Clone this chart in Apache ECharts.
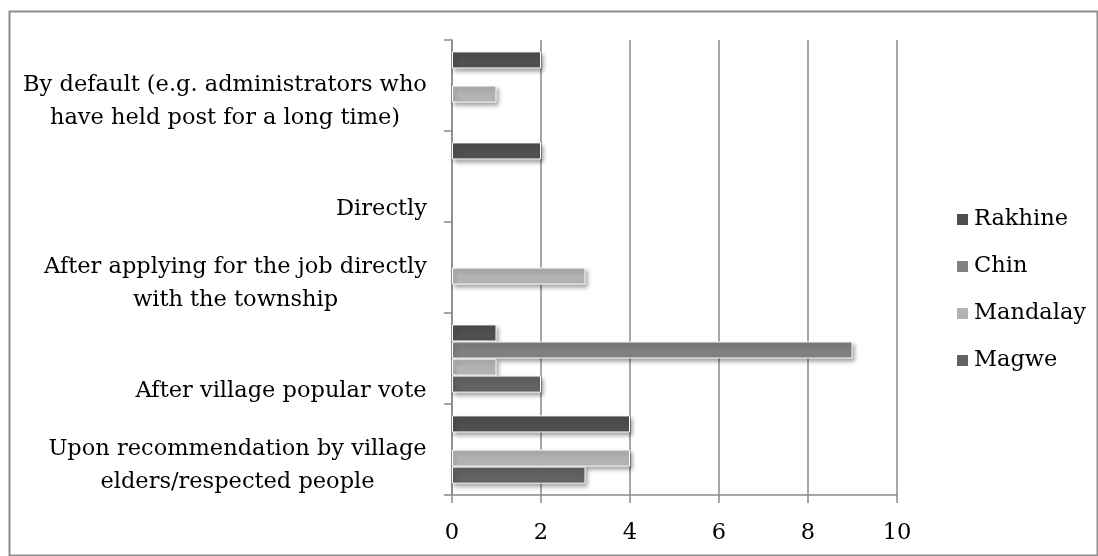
<!DOCTYPE html>
<html>
<head>
<meta charset="utf-8">
<script src="https://cdn.jsdelivr.net/npm/echarts@6/dist/echarts.min.js"></script>
<style>
  html, body { margin: 0; padding: 0; background: #fff; }
  #chart { width: 1098px; height: 556px; }
</style>
</head>
<body>
<div id="chart"></div>
<script>
// categories, top to bottom as in the picture
const categories = [
    'By default (e.g. administrators who\nhave held post for a long time)',
    'Directly',
    'After applying for the job directly\nwith the township',
    'After village popular vote',
    'Upon recommendation by village\nelders/respected people'
];
const regions = ['Rakhine', 'Chin', 'Mandalay', 'Magwe'];
const rakhine = [2, 2, 0, 1, 4];
const chin = [0, 0, 0, 9, 0];
const mandalay = [1, 0, 3, 1, 4];
const magwe = [0, 0, 0, 2, 3];
const xTicks = [0, 2, 4, 6, 8, 10];

const colors = {Rakhine: '#4f4f4f', Chin: '#808080', Mandalay: '#b3b3b3', Magwe: '#626262'};
const values = {Rakhine: rakhine, Chin: chin, Mandalay: mandalay, Magwe: magwe};

const fontFamily = '"DejaVu Serif", "Liberation Serif", serif';
const fontSize = 22.5;
const lineH = 33;

// each label's lines are centred inside a box as wide as its longest line
const ctx = document.createElement('canvas').getContext('2d');
ctx.font = fontSize + 'px ' + fontFamily;
const rich = {sp: {fontSize: fontSize, lineHeight: lineH, fontFamily: fontFamily}};
categories.forEach((c, i) => {
    const w = Math.max(...c.split('\n').map(l => ctx.measureText(l).width));
    rich['c' + i] = {
        width: Math.ceil(w), align: 'center', fontSize: fontSize,
        lineHeight: lineH, fontFamily: fontFamily, color: '#000'
    };
});

const myChart = echarts.init(document.getElementById('chart'));

const options = {
    animation: false,
    backgroundColor: '#fff',
    graphic: [{
        type: 'rect',
        shape: {x: 9.5, y: 11.5, width: 1088, height: 544},
        style: {fill: 'none', stroke: '#8c8c8c', lineWidth: 2},
        silent: true
    }],
    legend: {
        orient: 'vertical',
        left: 950,
        top: 199,
        data: regions,
        icon: 'rect',
        itemWidth: 13,
        itemHeight: 13,
        itemGap: 16,
        textStyle: {fontFamily: fontFamily, fontSize: fontSize, lineHeight: 31, color: '#000'}
    },
    grid: {
        left: 452,
        right: 201,
        top: 40,
        bottom: 61,
        outerBoundsMode: 'none'
    },
    xAxis: {
        type: 'value',
        min: 0,
        max: 10,
        interval: 2,
        axisLine: {show: true, lineStyle: {color: '#8a8a8a', width: 1.5}},
        axisTick: {show: true, length: 8, lineStyle: {color: '#8a8a8a', width: 1.5}},
        splitLine: {show: true, lineStyle: {color: '#8a8a8a', width: 1.5}},
        axisLabel: {
            margin: 27,
            fontFamily: fontFamily,
            fontSize: fontSize,
            color: '#000',
            formatter: v => xTicks.includes(v) ? String(v) : ''
        }
    },
    yAxis: {
        type: 'category',
        inverse: true,
        data: categories,
        axisLine: {show: true, lineStyle: {color: '#8a8a8a', width: 1.5}},
        axisTick: {show: true, length: 8, lineStyle: {color: '#8a8a8a', width: 1.5}},
        splitLine: {show: false},
        axisLabel: {
            interval: 0,
            margin: 25,
            rich: rich,
            formatter: (value) => {
                const i = categories.indexOf(value);
                const lines = value.split('\n');
                const pad = new Array(3 - lines.length).fill('{sp| }');
                return pad.concat(lines.map(l => '{c' + i + '|' + l + '}')).join('\n');
            }
        }
    },
    series: regions.map(name => ({
        name: name,
        type: 'bar',
        barGap: '0%',
        barCategoryGap: '25%',
        data: values[name].map(v => v === 0 ? null : v),
        itemStyle: {
            color: colors[name],
            borderColor: '#ffffff',
            borderWidth: 1,
            shadowBlur: 4,
            shadowOffsetX: 2,
            shadowOffsetY: 3,
            shadowColor: 'rgba(0,0,0,0.35)'
        }
    }))
};

myChart.setOption(options);
</script>
</body>
</html>
